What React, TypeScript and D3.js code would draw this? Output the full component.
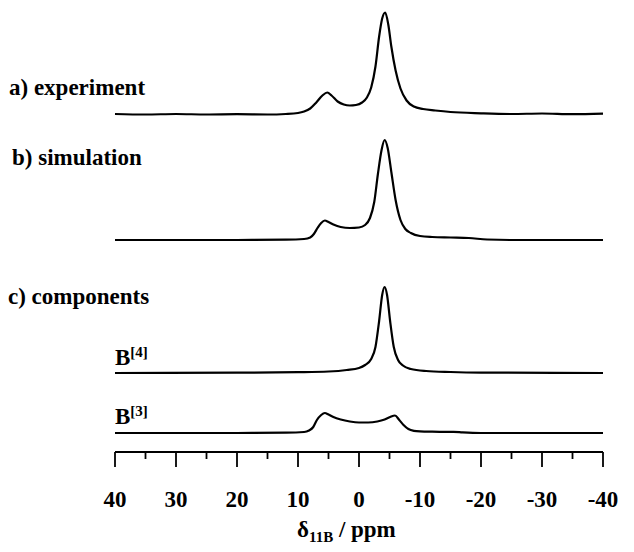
import React from 'react';
import * as d3 from 'd3';

// chemical shift axis (ppm), plotted reversed like an NMR spectrum
const axisTicks = [40, 30, 20, 10, 0, -10, -20, -30, -40];
const minorTicks = [35, 25, 15, 5, -5, -15, -25, -35];

// a) experiment
const expPpm = [40, 35, 30, 25, 20, 15, 12, 10, 9, 8, 7, 6, 5.2, 4.5, 3.5, 2.5, 1.5, 0.5, -0.5, -1.3, -2, -2.7, -3.3, -3.8, -4.3, -4.8, -5.3, -6, -6.8, -7.8, -9, -10.5, -12.5, -15, -20, -25, -30, -35, -40];
const expInt = [0.5, 0, 0.5, 0, 0.3, 0, 0.5, 1.5, 3, 6, 12, 19, 22, 19, 13, 10, 9, 9.5, 12, 17, 27, 48, 78, 96, 102, 90, 68, 44, 26, 14, 8, 5.5, 4, 2.5, 1.2, 0.5, 1, 0.3, 0.8];

// b) simulation
const simPpm = [40, 20, 12, 9, 8, 7.4, 6.8, 6.2, 5.6, 5, 4.2, 3, 1.5, 0, -1, -1.8, -2.5, -3.1, -3.7, -4.2, -4.7, -5.3, -6, -6.8, -7.6, -8.5, -10, -12, -15, -18, -21, -25, -40];
const simInt = [0, 0, 0.3, 1, 2.5, 6, 12, 17, 19.5, 18, 15.5, 13, 12, 12.5, 15, 22, 38, 66, 90, 100, 92, 68, 40, 20, 11, 7, 4, 3, 2.5, 2, 0.5, 0, 0];

// c) components
const b4Ppm = [40, 20, 10, 5, 2, 0, -1, -2, -2.7, -3.3, -3.8, -4.2, -4.6, -5.1, -5.7, -6.4, -7.2, -8.5, -11, -15, -20, -40];
const b4Int = [0, 0.3, 0.8, 1.5, 3, 5, 8, 14, 26, 52, 78, 86, 78, 52, 26, 13, 7.5, 4, 2, 1, 0.4, 0];

const b3Ppm = [40, 20, 12, 9, 8.2, 7.5, 6.9, 6.2, 5.6, 5, 4.2, 3, 1.5, 0, -1.5, -3, -4.2, -5.1, -5.9, -6.6, -7.3, -8.1, -9, -10, -12, -14, -15.5, -17, -20, -40];
const b3Int = [0, 0, 0.3, 1, 2.5, 6, 13, 18, 20, 18.5, 16, 13.5, 11.5, 10.5, 10.5, 11.5, 13.5, 16, 17.5, 13, 8, 4, 2.2, 1.6, 1.3, 1.2, 1.2, 0.6, 0, 0];

const font = '"Liberation Serif", "Times New Roman", serif';

const traces = [
  { ppm: expPpm, values: expInt, base: 114.5 },
  { ppm: simPpm, values: simInt, base: 240 },
  { ppm: b4Ppm, values: b4Int, base: 373 },
  { ppm: b3Ppm, values: b3Int, base: 433 },
];

export default function App() {
  const width = 634;
  const height = 552;
  const axisY = 452;

  const x = d3.scaleLinear().domain([40, -40]).range([115, 603]);
  // intensity units map to pixels; each trace is shifted to its own baseline
  const y = d3.scaleLinear().domain([0, 100]).range([0, -100]);

  const line = d3
    .line<[number, number]>()
    .x((d) => x(d[0]))
    .y((d) => y(d[1]))
    .curve(d3.curveMonotoneX);

  return (
    <svg width={width} height={height} style={{ position: 'absolute', left: 0, top: 0, background: '#fff' }}>
      <g fontFamily={font} fontWeight="bold" fill="#000">
        <text x={9} y={95} fontSize={23}>a) experiment</text>
        <text x={12} y={165} fontSize={23}>b) simulation</text>
        <text x={8} y={304} fontSize={23}>c) components</text>
        <text x={115} y={365} fontSize={23}>
          B<tspan fontSize={15} dy={-8}>[4]</tspan>
        </text>
        <text x={115} y={424} fontSize={23}>
          B<tspan fontSize={15} dy={-8}>[3]</tspan>
        </text>
      </g>

      {traces.map((t, i) => (
        <path
          key={i}
          transform={`translate(0,${t.base})`}
          d={line(t.ppm.map((p, j) => [p, t.values[j]] as [number, number])) ?? ''}
          fill="none"
          stroke="#000"
          strokeWidth={2.2}
          strokeLinejoin="round"
        />
      ))}

      {/* axis */}
      <g stroke="#000" strokeWidth={1.8}>
        <line x1={x(40)} x2={x(-40)} y1={axisY} y2={axisY} />
        {axisTicks.map((t) => (
          <line key={t} x1={x(t)} x2={x(t)} y1={axisY} y2={axisY + 15} />
        ))}
        {minorTicks.map((t) => (
          <line key={t} x1={x(t)} x2={x(t)} y1={axisY} y2={axisY + 7} />
        ))}
      </g>
      <g fontFamily={font} fontWeight="bold" fontSize={23} textAnchor="middle">
        {axisTicks.map((t) => (
          <text key={t} x={x(t)} y={507}>{t}</text>
        ))}
      </g>
      <text x={297} y={537} fontFamily={font} fontWeight="bold" fontSize={23}>
        δ<tspan fontSize={15} dy={5}>11B</tspan><tspan dy={-5}> / ppm</tspan>
      </text>
    </svg>
  );
}
